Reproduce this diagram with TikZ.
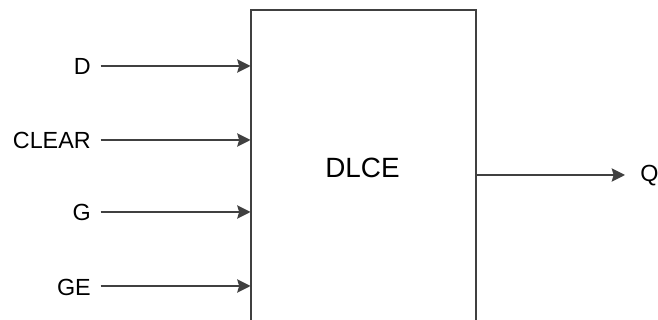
\documentclass[tikz,border=0pt]{standalone}
\usepackage{fontspec}
\setmainfont{Liberation Sans}
\usetikzlibrary{arrows.meta}
\definecolor{ln}{HTML}{404040}
\tikzset{
 px/.style={x=0.75pt,y=-0.75pt},
 lab/.style={text=black,font=\fontsize{17.5}{20}\selectfont,inner sep=0pt},
 conn/.style={draw=ln,line width=1.1pt,-{Stealth[length=10pt,width=10pt,inset=1.5pt]}}
}
\begin{document}
\begin{tikzpicture}[px]
\useasboundingbox (0,0) rectangle (658,320);
\fill[white] (0,0) rectangle (658,320);
\draw[ln,line width=1.1pt] (476,322) |- (251,10) -- (251,322);
\node[lab,anchor=center] (dlce) at (362.5,168) {\fontsize{20.9}{24}\selectfont DLCE};
\coordinate (bw1) at (250.5,66);\coordinate (bw2) at (250.5,140);\coordinate (bw3) at (250.5,212);\coordinate (bw4) at (250.5,286);\coordinate (be) at (476,175);
\node[lab,anchor=east] (d) at (91,66) {D};
\node[lab,anchor=east] (c) at (91,140) {CLEAR};
\node[lab,anchor=east] (g) at (91,212) {G};
\node[lab,anchor=east] (ge) at (91,287) {GE};
\node[lab,anchor=west] (q) at (640,176) {Q};
\coordinate (s1) at (100.5,66);\coordinate (s2) at (100.5,140);\coordinate (s3) at (100.5,212);\coordinate (s4) at (100.5,286);\coordinate (qe) at (625,175);
\draw[conn] (s1) -- (bw1);
\draw[conn] (s2) -- (bw2);
\draw[conn] (s3) -- (bw3);
\draw[conn] (s4) -- (bw4);
\draw[conn] (be) -- (qe);
\end{tikzpicture}
\end{document}
